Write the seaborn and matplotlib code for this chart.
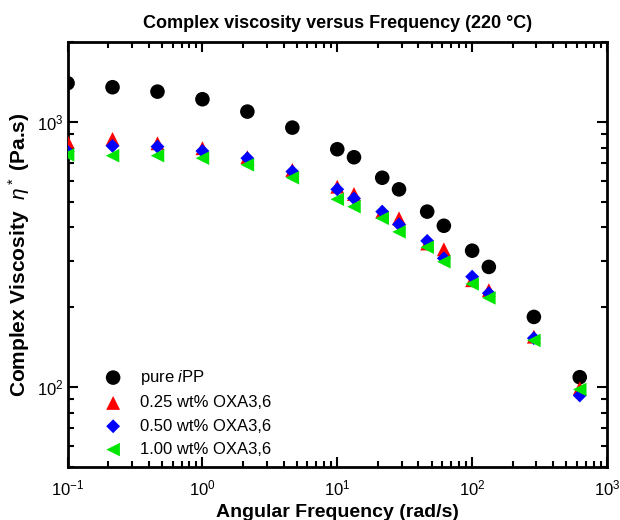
import numpy as np
import pandas as pd
import seaborn as sns
import matplotlib.pyplot as plt
from matplotlib.ticker import LogLocator

# data
freq = [0.1, 0.2154, 0.4642, 1.0, 2.154, 4.642, 10.0, 13.3, 21.54, 28.7,
        46.42, 61.7, 100.0, 133.0, 287.0, 628.0]
eta_pure = [1400, 1352, 1301, 1218, 1094, 952, 789, 736, 616, 557,
            459, 406, 327, 284, 184, 109]
eta_025 = [843, 863, 831, 796, 736, 659, 570, 535, 459, 433,
           348, 331, 253, 232, 155, 99]
eta_050 = [773, 812, 807, 777, 730, 650, 557, 515, 459, 411,
           356, 306, 261, 226, 153, 93]
eta_100 = [751, 746, 746, 730, 689, 616, 511, 479, 433, 385,
           337, 297, 245, 217, 150, 98]

series_names = [r'pure $\it{i}$PP', '0.25 wt% OXA3,6', '0.50 wt% OXA3,6', '1.00 wt% OXA3,6']
series_vals = [eta_pure, eta_025, eta_050, eta_100]
colors = ['black', '#ff0000', '#0000ff', '#00e600']
markers = ['o', '^', 'D', '<']
sizes = [110, 100, 50, 95]

sns.set_style('ticks')
plt.rcParams['font.family'] = ['Liberation Sans', 'DejaVu Sans']
plt.rcParams['mathtext.fontset'] = 'custom'
plt.rcParams['mathtext.rm'] = 'Liberation Sans'
plt.rcParams['mathtext.it'] = 'Liberation Sans:italic'
plt.rcParams['mathtext.bf'] = 'Liberation Sans:bold'
for key in ['text.color', 'axes.labelcolor', 'axes.edgecolor',
            'xtick.color', 'ytick.color']:
    plt.rcParams[key] = 'black'

fig = plt.figure(figsize=(6.2, 5.2), dpi=100)
ax = fig.add_axes([0.109, 0.102, 0.870, 0.817])

for name, vals, c, m, s in zip(series_names, series_vals, colors, markers, sizes):
    df = pd.DataFrame({'freq': freq, 'eta': vals})
    sns.scatterplot(data=df, x='freq', y='eta', ax=ax, color=c, marker=m,
                    s=s, edgecolor='none', label=name, zorder=3)

ax.set_xscale('log')
ax.set_yscale('log')
ax.set_xlim(0.1, 1000)
ax.set_ylim(50, 2000)

ax.xaxis.set_minor_locator(LogLocator(base=10, subs=np.arange(2, 10)))
ax.yaxis.set_minor_locator(LogLocator(base=10, subs=np.arange(2, 10)))
ax.tick_params(which='both', direction='in', top=True, right=True,
               labelsize=12, width=1.5)
ax.tick_params(axis='x', which='both', pad=8)
ax.tick_params(axis='y', which='both', pad=3)
ax.tick_params(which='major', length=7)
ax.tick_params(which='minor', length=4)
for sp in ax.spines.values():
    sp.set_linewidth(2)

ax.set_title('Complex viscosity versus Frequency (220 \u00b0C)',
             fontsize=13, fontweight='bold', pad=10)
ax.set_xlabel('Angular Frequency (rad/s)', fontsize=14, fontweight='bold', labelpad=4)
ax.set_ylabel(r'Complex Viscosity  $\eta^*$ (Pa.s)', fontsize=15,
              fontweight='bold')
ax.yaxis.set_label_coords(-0.066, 0.5)

leg = ax.legend(loc='lower left', bbox_to_anchor=(0.035, 0.0), frameon=False,
                fontsize=12, handletextpad=0.6, labelspacing=0.5,
                borderaxespad=0.2)

fig.savefig('out.png', dpi=100)
